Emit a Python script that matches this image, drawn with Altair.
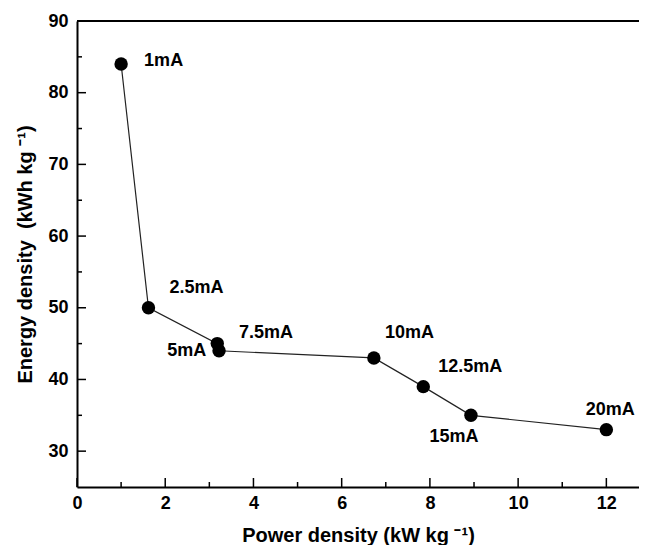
import altair as alt
import pandas as pd

# ---- data ----
currents = ["1mA", "2.5mA", "5mA", "7.5mA", "10mA", "12.5mA", "15mA", "20mA"]
power = [1.0, 1.62, 3.18, 3.22, 6.73, 7.85, 8.93, 12.0]      # kW kg^-1
energy = [84, 50, 45, 44, 43, 39, 35, 33]                    # kWh kg^-1

x_major = [0, 2, 4, 6, 8, 10, 12]
x_minor = [1, 3, 5, 7, 9, 11]
y_major = [30, 40, 50, 60, 70, 80, 90]
y_minor = [35, 45, 55, 65, 75, 85]

# label placement (pixel offsets from each point)
label_dx = [23, 21, -11, 20, 11, 15, -17, 4]
label_dy = [-3, -20, 7, -18, -25, -20, 22, -20]
label_align = ["left", "left", "right", "left", "left", "left", "center", "center"]

FONT = "Liberation Sans"
W, H = 562, 466

df = pd.DataFrame({"current": currents, "power": power, "energy": energy,
                   "order": list(range(len(currents)))})

xscale = alt.Scale(domain=[0, 12.74], nice=False, zero=False)
yscale = alt.Scale(domain=[25, 90], nice=False, zero=False)

x_axis = alt.Axis(values=x_major, title="Power density (kW kg \u207b\u00b9)", ticks=False, grid=False,
                  domainColor="black", domainWidth=2, labelFont=FONT, labelFontSize=18,
                  labelFontWeight="bold", labelColor="black", labelPadding=7, labelFlush=False,
                  labelOverlap=False, titleFont=FONT, titleFontSize=20, titleFontWeight="bold",
                  titleColor="black", titlePadding=13)
y_axis = alt.Axis(values=y_major, title="Energy density\u00a0 (kWh kg \u207b\u00b9)", ticks=False, grid=False,
                  domainColor="black", domainWidth=2, labelFont=FONT, labelFontSize=18,
                  labelFontWeight="bold", labelColor="black", labelPadding=9, labelFlush=False,
                  labelOverlap=False, titleFont=FONT, titleFontSize=20, titleFontWeight="bold",
                  titleColor="black", titlePadding=12)


def X(field):
    return alt.X(field, scale=xscale, axis=x_axis)


def Y(field):
    return alt.Y(field, scale=yscale, axis=y_axis)


line = alt.Chart(df).mark_line(color="#222222", strokeWidth=1.2).encode(
    x=X("power:Q"), y=Y("energy:Q"), order="order:Q",
)

points = alt.Chart(df).mark_circle(size=180, color="black", opacity=1).encode(
    x=X("power:Q"), y=Y("energy:Q"),
)

layers = [line, points]

for i, c in enumerate(currents):
    layers.append(
        alt.Chart(df).transform_filter(alt.datum.current == c).mark_text(
            align=label_align[i], baseline="middle", dx=label_dx[i], dy=label_dy[i],
            font=FONT, fontSize=18, fontWeight="bold", color="black",
        ).encode(x=X("power:Q"), y=Y("energy:Q"), text="current:N")
    )

# inward ticks
layers.append(alt.Chart(pd.DataFrame({"power": x_major})).mark_rule(color="black", strokeWidth=1.5).encode(
    x=X("power:Q"), y=alt.value(H), y2=alt.value(H - 9)))
layers.append(alt.Chart(pd.DataFrame({"power": x_minor})).mark_rule(color="black", strokeWidth=1.5).encode(
    x=X("power:Q"), y=alt.value(H), y2=alt.value(H - 5)))
layers.append(alt.Chart(pd.DataFrame({"energy": y_major})).mark_rule(color="black", strokeWidth=1.5).encode(
    y=Y("energy:Q"), x=alt.value(0), x2=alt.value(9)))
layers.append(alt.Chart(pd.DataFrame({"energy": y_minor})).mark_rule(color="black", strokeWidth=1.5).encode(
    y=Y("energy:Q"), x=alt.value(0), x2=alt.value(5)))

# top frame line
layers.append(alt.Chart(pd.DataFrame({"a": [0]})).mark_rule(color="black", strokeWidth=2).encode(
    x=alt.value(0), x2=alt.value(W), y=alt.value(0)))

chart = alt.layer(*layers).properties(
    width=W, height=H,
    autosize=alt.AutoSizeParams(type="none"),
    padding={"left": 69, "top": 13, "right": 0, "bottom": 58},
    background="white",
).configure_view(stroke=None)

chart.save("out.html", embed_options={"renderer": "svg", "actions": False})
